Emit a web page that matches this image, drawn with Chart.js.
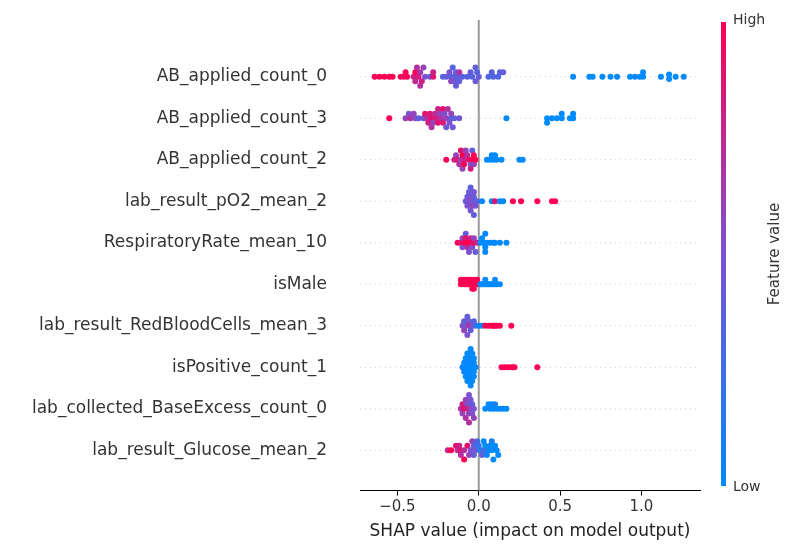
<!DOCTYPE html>
<html>
<head>
<meta charset="utf-8">
<script src="https://cdn.jsdelivr.net/npm/chart.js@4"></script>
<style>body{margin:0;background:#fff}</style>
</head>
<body>
<canvas id="c" width="800" height="550"></canvas>
<script>
// features, top to bottom
const features = ['AB_applied_count_0','AB_applied_count_3','AB_applied_count_2','lab_result_pO2_mean_2',
  'RespiratoryRate_mean_10','isMale','lab_result_RedBloodCells_mean_3','isPositive_count_1',
  'lab_collected_BaseExcess_count_0','lab_result_Glucose_mean_2'];
const xTicks = [-0.5, 0, 0.5, 1.0];

// points: [shap value, stack offset (steps), feature value 0..1]
const ab0 = [[-0.64,0,1],[-0.61,0,1],[-0.58,0,1],[-0.55,0,1],[-0.53,0,1],[-0.48,0,1],[-0.46,0,0.9],[-0.45,1,1],[-0.44,0,1],
  [-0.40,0,0.8],[-0.39,1,1],[-0.39,-1,0.75],[-0.38,2,0.7],[-0.37,0,0.85],[-0.36,-2,0.7],[-0.36,1,0.65],[-0.35,-1,0.8],[-0.34,2,0.6],[-0.33,0,0.5],
  [-0.30,0,0.4],[-0.28,0,0.9],[-0.28,1,0.8],[-0.22,0,0.35],[-0.20,0,0.4],[-0.18,1,0.5],[-0.17,0,0.35],[-0.17,-1,0.6],[-0.16,2,0.35],
  [-0.15,0,0.4],[-0.15,-1,0.45],[-0.14,1,0.35],[-0.14,-2,0.4],[-0.13,0,0.4],[-0.12,1,0.7],[-0.12,-1,0.4],[-0.10,0,0.35],
  [-0.07,0,0.35],[-0.05,1,0.4],[-0.04,0,0.35],[-0.02,-1,0.45],[-0.02,2,0.4],[-0.01,1,0.35],[0.0,0,0.4],
  [0.06,0,0.3],[0.08,1,0.35],[0.09,0,0.35],[0.12,0,0.3],[0.13,1,0.35],[0.15,1,0.4],
  [0.58,0,0],[0.68,0,0],[0.70,0,0],[0.76,0,0],[0.81,0,0],[0.85,0,0],[0.93,0,0],[0.96,0,0],[0.99,0,0],[1.01,1,0],[1.01,0,0],
  [1.12,0,0],[1.17,0.5,0],[1.17,-0.5,0],[1.21,0,0],[1.26,0,0]];
const ab3 = [[-0.55,0,1],[-0.45,0,0.6],[-0.43,1,0.5],[-0.42,0,0.7],[-0.40,1,0.6],[-0.39,0,0.55],[-0.37,0,0.4],[-0.34,0,0.45],
  [-0.33,1,0.9],[-0.32,0,0.7],[-0.31,-1,0.8],[-0.30,1,0.85],[-0.29,0,0.9],[-0.29,-2,0.7],[-0.28,-1,0.6],[-0.27,1,0.75],
  [-0.26,0,0.8],[-0.25,2,0.8],[-0.25,-1,0.9],[-0.24,1,0.6],[-0.23,0,0.7],[-0.22,-1,0.85],[-0.22,2,0.9],[-0.21,1,0.5],
  [-0.20,0,0.6],[-0.20,-2,0.45],[-0.19,2,0.7],[-0.18,-1,0.5],[-0.17,0,0.4],[-0.17,1,0.6],[-0.16,-2,0.45],[-0.15,0,0.4],
  [-0.12,0,0.45],[0.17,0,0],[0.42,0,0],[0.42,-1,0],[0.45,0,0],[0.48,0,0],[0.51,0,0],[0.51,1,0],[0.56,0,0],[0.58,0,0],[0.58,1,0]];
const ab2 = [[-0.20,0,1],[-0.15,0,0.8],[-0.14,1,0.6],[-0.13,0,0.9],[-0.12,-1,0.7],[-0.11,2,0.9],[-0.11,0,0.6],[-0.10,1,1],
  [-0.10,-2,0.6],[-0.09,0,0.8],[-0.09,-1,1],[-0.08,2,0.6],[-0.07,1,0.7],[-0.06,0,0.9],[-0.05,-1,0.5],[-0.05,-2,0.8],
  [-0.04,2,0.4],[-0.04,0,1],[-0.03,1,1],[-0.03,-1,0.6],[-0.02,0,1],[0.05,0,0],[0.07,0,0],[0.08,1,0],[0.09,0,0],[0.10,1,0],
  [0.11,0,0],[0.14,0,0],[0.25,0,0],[0.27,0,0]];
const po2 = [[-0.08,0,0.4],[-0.07,1,0.45],[-0.07,-1,0.5],[-0.06,2,0.4],[-0.06,0,0.55],[-0.05,-2,0.45],[-0.05,1,0.5],[-0.05,3,0.4],
  [-0.04,-1,0.6],[-0.04,0,0.45],[-0.03,2,0.5],[-0.03,-3,0.4],[-0.03,1,0.4],[-0.02,0,0.45],[-0.02,-1,0.5],[-0.01,0,0.4],
  [0.02,0,0],[0.08,0,0],[0.10,0,0.9],[0.13,0,0],[0.15,0,0],[0.21,0,1],[0.26,0,1],[0.36,0,1],[0.45,0,1],[0.47,0,1]];
const resp = [[-0.13,0,1],[-0.11,0,0.9],[-0.10,1,0.6],[-0.10,-1,0.5],[-0.09,0,1],[-0.08,2,0.4],[-0.08,1,0.9],[-0.07,-1,0.7],
  [-0.07,0,1],[-0.06,-2,0.5],[-0.05,1,0.8],[-0.05,0,1],[-0.04,-1,0.5],[-0.03,0,0.9],[-0.03,1,0.6],[-0.02,-2,0.4],[-0.01,0,0.8],
  [0.01,0,0],[0.02,1,0],[0.03,0,0],[0.04,-1,0],[0.04,2,0],[0.04,-2,0],[0.05,0,0],[0.07,0,0],[0.09,0,0.1],[0.10,0,0],[0.13,0,0],[0.17,0,0]];
const male = [[-0.11,1,1],[-0.09,1,1],[-0.07,1,1],[-0.05,1,1],[-0.03,1,1],[-0.01,1,1],
  [-0.11,0,1],[-0.09,0,1],[-0.08,0,1],[-0.07,0,1],[-0.06,0,1],[-0.05,0,1],[-0.04,0,1],[-0.03,0,1],[-0.02,0,1],[-0.01,0,1],
  [-0.04,-1,1],[-0.03,-1,1],[0.04,1,0],[0.10,1,0],
  [0.01,0,0],[0.02,0,0],[0.03,0,0],[0.04,0,0],[0.05,0,0],[0.06,0,0],[0.07,0,0],[0.08,0,0],[0.09,0,0],[0.10,0,0],[0.11,0,0],[0.13,0,0]];
const rbc = [[-0.10,0,0.5],[-0.09,1,0.4],[-0.09,-1,0.6],[-0.08,0,0.45],[-0.07,2,0.4],[-0.07,-2,0.5],[-0.06,1,0.45],[-0.06,0,0.7],
  [-0.05,-1,0.4],[-0.04,0,0.5],[-0.03,1,0.35],[-0.02,0,0.3],[0.0,0,0.05],[0.02,0,0],[0.04,0,1],[0.06,0,1],[0.08,0,1],
  [0.09,0,1],[0.10,0,1],[0.11,0,1],[0.13,0,1],[0.20,0,1]];
const pos = [[-0.10,0,0.05],[-0.09,1,0],[-0.09,-1,0.05],[-0.08,2,0],[-0.08,0,0],[-0.08,-2,0],[-0.07,1,0.05],[-0.07,-1,0],
  [-0.07,3,0],[-0.07,-3,0.05],[-0.06,0,0],[-0.06,2,0],[-0.06,-2,0],[-0.05,1,0],[-0.05,-1,0],[-0.05,4,0],[-0.05,-4,0],
  [-0.04,0,0],[-0.04,3,0],[-0.04,-3,0],[-0.03,2,0],[-0.03,-2,0],[-0.03,1,0],[-0.03,-1,0],[-0.02,0,0],
  [0.14,0,1],[0.16,0,1],[0.18,0,1],[0.20,0,1],[0.21,0,1],[0.22,0,1],[0.36,0,1]];
const base = [[-0.11,0,0.7],[-0.10,1,0.8],[-0.10,-1,0.6],[-0.09,0,0.9],[-0.08,2,0.6],[-0.08,-2,0.7],[-0.07,1,0.5],[-0.07,0,0.8],
  [-0.06,-1,0.6],[-0.06,3,0.5],[-0.06,-3,0.7],[-0.05,0,0.6],[-0.05,2,0.5],[-0.04,1,0.4],[-0.04,-1,0.5],[-0.03,0,0.5],
  [-0.03,-2,0.6],[0.04,0,0],[0.06,1,0],[0.07,0,0],[0.08,1,0],[0.09,0,0],[0.10,1,0.1],[0.11,0,0],[0.13,0,0],[0.15,0,0],[0.17,0,0]];
const glu = [[-0.19,0,0.8],[-0.17,0,1],[-0.14,1,0.9],[-0.13,0,0.75],[-0.12,1,0.8],[-0.11,0,0.9],[-0.11,-1,0.7],[-0.09,-2,1],
  [-0.09,0,0.7],[-0.07,1,0.9],[-0.06,-1,0.6],[-0.05,0,0.5],[-0.04,2,0.6],[-0.03,1,0.35],[-0.03,-1,0.4],[-0.02,0,0.45],
  [-0.01,2,0.3],[0.0,1,0.2],[0.01,0,0.1],[0.02,-1,0.4],[0.03,2,0],[0.03,0,0.3],[0.04,1,0],[0.05,-1,0],[0.06,0,0.05],
  [0.07,1,0],[0.08,2,0.1],[0.08,0,0],[0.09,-2,0],[0.10,1,0],[0.11,0,0],[0.12,-1,0]];
const rows = [ab0, ab3, ab2, po2, resp, male, rbc, pos, base, glu];

const STEP = 0.11;
const LOW = [0, 138, 251], MID = [124, 82, 210], HIGH = [255, 0, 82];
function colorAt(t) {
  const a = t < 0.5 ? LOW : MID, b = t < 0.5 ? MID : HIGH;
  const f = t < 0.5 ? t * 2 : (t - 0.5) * 2;
  const c = a.map((v, i) => Math.round(v + (b[i] - v) * f));
  return `rgb(${c[0]},${c[1]},${c[2]})`;
}

const datasets = rows.map((pts, i) => ({
  label: features[i],
  data: pts.map(p => ({ x: p[0], y: (9 - i) + p[1] * STEP, c: p[2] })),
  pointRadius: 3,
  pointBorderWidth: 0,
  backgroundColor: ctx => colorAt(ctx.raw ? ctx.raw.c : 0)
}));

const decor = {
  id: 'decor',
  beforeDatasetsDraw(chart) {
    const { ctx, chartArea: a, scales: { x, y } } = chart;
    ctx.save();
    ctx.strokeStyle = '#ccc';
    ctx.lineWidth = 1;
    ctx.setLineDash([1, 4]);
    for (let i = 0; i < 10; i++) {
      const py = y.getPixelForValue(i);
      ctx.beginPath(); ctx.moveTo(a.left, py); ctx.lineTo(a.right, py); ctx.stroke();
    }
    ctx.setLineDash([]);
    ctx.strokeStyle = '#999';
    ctx.lineWidth = 2;
    const px = x.getPixelForValue(0);
    ctx.beginPath(); ctx.moveTo(px, 20); ctx.lineTo(px, a.bottom); ctx.stroke();
    ctx.restore();
  },
  afterDraw(chart) {
    const { ctx } = chart;
    const top = 22, bot = 486, left = 721, w = 5;
    const g = ctx.createLinearGradient(0, bot, 0, top);
    for (let t = 0; t <= 1.0001; t += 0.1) g.addColorStop(Math.min(t, 1), colorAt(Math.min(t, 1)));
    ctx.save();
    ctx.fillStyle = g;
    ctx.fillRect(left, top, w, bot - top);
    ctx.fillStyle = '#333';
    ctx.font = '14px "DejaVu Sans"';
    ctx.textBaseline = 'middle';
    ctx.fillText('High', 733, 20);
    ctx.fillText('Low', 733, 487);
    ctx.translate(775, 254);
    ctx.rotate(-Math.PI / 2);
    ctx.textAlign = 'center';
    ctx.font = '15px "DejaVu Sans"';
    ctx.fillText('Feature value', 0, 0);
    ctx.restore();
  }
};

new Chart(document.getElementById('c'), {
  type: 'scatter',
  data: { datasets },
  plugins: [decor],
  options: {
    responsive: false,
    animation: false,
    layout: { padding: { top: 0, right: 100, bottom: 4, left: 0 } },
    plugins: { legend: { display: false }, tooltip: { enabled: false } },
    scales: {
      x: {
        min: -0.73, max: 1.36,
        afterBuildTicks: ax => { ax.ticks = xTicks.map(v => ({ value: v })); },
        ticks: { color: '#333', font: { size: 15, family: 'DejaVu Sans' }, padding: 3,
          callback: v => v < 0 ? '\u2212' + Math.abs(v).toFixed(1) : v.toFixed(1) },
        grid: { drawOnChartArea: false, drawTicks: true, tickLength: 5, color: '#000' },
        border: { color: '#000', width: 1 },
        title: { display: true, text: 'SHAP value (impact on model output)', color: '#222',
          font: { size: 17, family: 'DejaVu Sans' }, padding: { top: 2 } }
      },
      y: {
        min: -0.97, max: 10.0,
        afterBuildTicks: ax => { ax.ticks = features.map((f, i) => ({ value: 9 - i })); },
        afterFit: ax => { ax.width = 360; },
        ticks: { color: '#333', font: { size: 17, family: 'DejaVu Sans' }, padding: 25,
          callback: v => features[9 - v] },
        grid: { display: false },
        border: { display: false }
      }
    }
  }
});
</script>
</body>
</html>
